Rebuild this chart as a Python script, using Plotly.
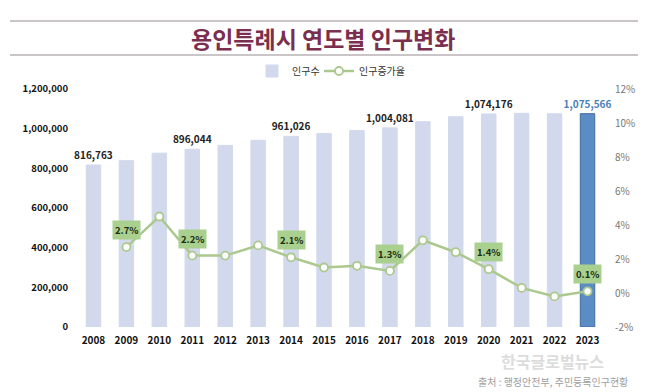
import plotly.graph_objects as go

years = [str(y) for y in range(2008, 2024)]
population = [816763, 838800, 876500, 896044, 915800, 941400, 961026, 975500,
              991100, 1004081, 1035200, 1060100, 1074176, 1077400, 1075200, 1075566]
growth = [None, 2.7, 4.5, 2.2, 2.2, 2.8, 2.1, 1.5, 1.6, 1.3, 3.1, 2.4, 1.4, 0.3, -0.2, 0.1]
bar_label_years = ["2008", "2011", "2014", "2017", "2020", "2023"]
rate_label_years = ["2009", "2011", "2014", "2017", "2020", "2023"]
left_ticks = [0, 200000, 400000, 600000, 800000, 1000000, 1200000]
right_ticks = [-2, 0, 2, 4, 6, 8, 10, 12]

FONT = "Noto Sans CJK KR"
LIGHT = "#d3d9ec"
HIGHLIGHT = "#5b8cc4"
GREEN = "#abc98e"

# plot area in pixels
L, R, T, B = 77, 604, 89, 327


def px(x):
    return (x - L) / (R - L)


def py(y):
    return (B - y) / (B - T)


bar_colors = [HIGHLIGHT if y == "2023" else LIGHT for y in years]
bar_text = [f"<b>{v:,}</b>" if y in bar_label_years else "" for y, v in zip(years, population)]
bar_text_colors = ["#4a80b8" if y == "2023" else "#222222" for y in years]

fig = go.Figure()
fig.add_trace(go.Bar(
    x=years, y=population, name="인구수", legend="legend",
    marker=dict(color=bar_colors,
                line=dict(color=["#3f6f9f" if y == "2023" else LIGHT for y in years], width=1)),
    width=0.44,
    text=bar_text, textposition="outside", cliponaxis=False, constraintext="none",
    textfont=dict(family=FONT, size=10, color=bar_text_colors),
))
fig.add_trace(go.Scatter(
    x=years, y=growth, name="인구증가율", yaxis="y2", mode="lines+markers", legend="legend2",
    line=dict(color=GREEN, width=2.5),
    marker=dict(size=8, color="white", line=dict(color=GREEN, width=1.8)),
    cliponaxis=False,
))

for i, (y, g) in enumerate(zip(years, growth)):
    if y in rate_label_years and g is not None:
        fig.add_annotation(
            x=i, y=g, xref="x", yref="y2", text=f"<b>{g:.1f}%</b>",
            showarrow=False, yshift=17, bgcolor="#a9d08e", borderpad=2,
            font=dict(family=FONT, size=9.5, color="#1e2e14"),
        )

# title and decorative lines
fig.add_annotation(x=px(323), y=py(38), xref="paper", yref="paper",
                   xanchor="center", yanchor="middle",
                   text="<b>용인특례시 연도별 인구변화</b>", showarrow=False,
                   font=dict(family=FONT, size=23, color="#7b2f4f"))
for ly in (21, 55):
    fig.add_shape(type="line", xref="paper", yref="paper",
                  x0=px(10), x1=px(638), y0=py(ly), y1=py(ly),
                  line=dict(color="#b8b3b5", width=1.5))

# watermark and source
fig.add_annotation(x=px(552), y=py(361), xref="paper", yref="paper",
                   xanchor="center", yanchor="middle",
                   text="<b>한국글로벌뉴스</b>", showarrow=False,
                   font=dict(family=FONT, size=16, color="rgba(205,205,205,0.7)"))
fig.add_annotation(x=px(630), y=py(381), xref="paper", yref="paper",
                   xanchor="right", yanchor="middle",
                   text="출처 : 행정안전부, 주민등록인구현황", showarrow=False,
                   font=dict(family=FONT, size=10, color="#a0a0a0"))

legend_common = dict(orientation="h", xanchor="left", yanchor="middle",
                     font=dict(family=FONT, size=10, color="#333333"), itemwidth=30,
                     bgcolor="rgba(0,0,0,0)")

fig.update_layout(
    width=650, height=392,
    margin=dict(l=L, r=650 - R, t=T, b=392 - B),
    paper_bgcolor="white", plot_bgcolor="white",
    font=dict(family=FONT, color="#222222"),
    showlegend=True,
    legend=dict(x=px(252), y=py(71), **legend_common),
    legend2=dict(x=px(319), y=py(71), **legend_common),
    xaxis=dict(type="category", range=[-0.5, 15.5], showgrid=False, showline=False, ticks="",
               ticklabelstandoff=6,
               tickfont=dict(family=FONT, size=10, color="#111111", weight="bold")),
    yaxis=dict(range=[0, 1200000], tickvals=left_ticks, tickformat=",", showgrid=False,
               zeroline=False, showline=False, ticklabelstandoff=8,
               tickfont=dict(family=FONT, size=9.5, color="#111111", weight="bold")),
    yaxis2=dict(range=[-2, 12], tickvals=right_ticks, ticktext=[f"{v}%" for v in right_ticks],
                overlaying="y", side="right",
                showgrid=False, zeroline=False, showline=False, ticklabelstandoff=10,
                tickfont=dict(family=FONT, size=10, color="#777777")),
)

fig.write_html("out.html", config={"displayModeBar": False},
               post_script="document.body.style.margin='0';")
